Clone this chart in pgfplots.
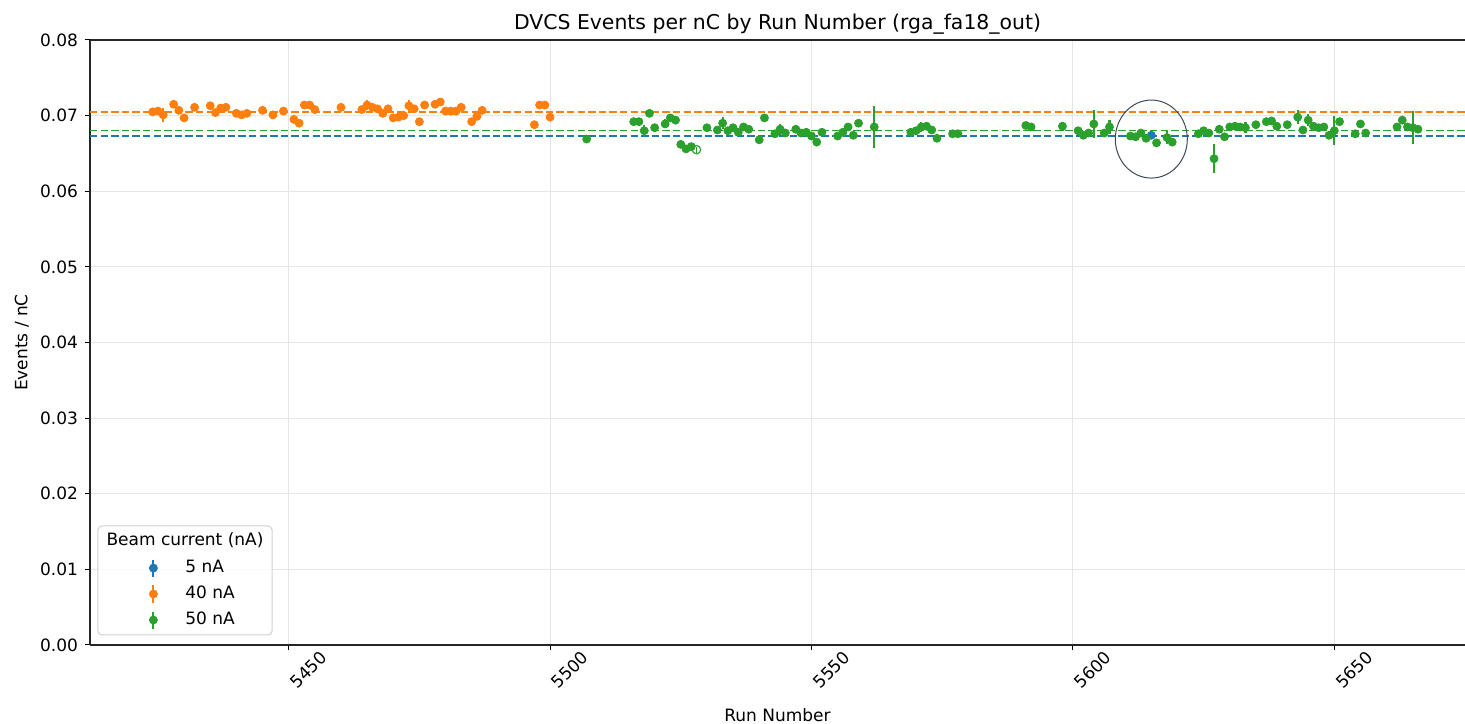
\documentclass[border=0pt]{standalone}
\usepackage{pgfplots}
\pgfplotsset{compat=1.18}
\usepackage{pgfplotstable}
\usepackage{fontspec}
\setmainfont{DejaVu Sans}

\definecolor{tabblue}{HTML}{1F77B4}
\definecolor{taborange}{HTML}{FF7F0E}
\definecolor{tabgreen}{HTML}{2CA02C}
\definecolor{gridgray}{HTML}{E6E6E6}
\definecolor{ringcol}{HTML}{3C4A5C}
\newcommand{\tfont}{\fontsize{8.5}{10}\selectfont}

% 5 nA runs
\pgfplotstableread{
run y ey
5615 0.0674 0.0002
}\bluedata

% 40 nA runs
\pgfplotstableread{
run y ey
5424 0.0705 0.0003
5425 0.0706 0.0003
5426 0.0701 0.0009
5428 0.0715 0.0004
5429 0.0707 0.0003
5430 0.0697 0.0003
5432 0.0711 0.0003
5435 0.0713 0.0003
5436 0.0704 0.0003
5437 0.0710 0.0003
5438 0.0711 0.0003
5440 0.0703 0.0003
5441 0.0701 0.0003
5442 0.0703 0.0003
5445 0.0707 0.0003
5447 0.0701 0.0003
5449 0.0706 0.0003
5451 0.0695 0.0003
5452 0.0690 0.0003
5453 0.0714 0.0003
5454 0.0714 0.0003
5455 0.0708 0.0003
5460 0.0711 0.0003
5464 0.0708 0.0003
5465 0.0714 0.0007
5466 0.0711 0.0003
5467 0.0709 0.0003
5468 0.0703 0.0003
5469 0.0709 0.0004
5470 0.0697 0.0003
5471 0.0698 0.0003
5472 0.0700 0.0003
5473 0.0713 0.0008
5474 0.0709 0.0003
5475 0.0692 0.0003
5476 0.0714 0.0004
5478 0.0715 0.0003
5479 0.0718 0.0003
5480 0.0706 0.0003
5481 0.0706 0.0003
5482 0.0706 0.0003
5483 0.0711 0.0003
5485 0.0692 0.0003
5486 0.0699 0.0003
5487 0.0707 0.0003
5497 0.0688 0.0003
5498 0.0714 0.0005
5499 0.0714 0.0003
5500 0.0698 0.0003
}\orangedata

% 50 nA runs
\pgfplotstableread{
run y ey
5507 0.0669 0.0003
5516 0.0692 0.0003
5517 0.0692 0.0003
5518 0.0680 0.0007
5519 0.0703 0.0003
5520 0.0684 0.0003
5522 0.0689 0.0006
5523 0.0697 0.0003
5524 0.0694 0.0003
5525 0.0662 0.0003
5526 0.0656 0.0003
5527 0.0659 0.0003
5530 0.0684 0.0003
5532 0.0681 0.0003
5533 0.0690 0.0008
5534 0.0680 0.0003
5535 0.0684 0.0003
5536 0.0678 0.0003
5537 0.0685 0.0003
5538 0.0682 0.0003
5540 0.0668 0.0003
5541 0.0697 0.0003
5543 0.0676 0.0003
5544 0.0682 0.0007
5545 0.0677 0.0003
5547 0.0682 0.0003
5548 0.0677 0.0003
5549 0.0678 0.0003
5550 0.0673 0.0003
5551 0.0665 0.0003
5552 0.0678 0.0003
5555 0.0673 0.0003
5556 0.0678 0.0003
5557 0.0685 0.0003
5558 0.0674 0.0003
5559 0.0690 0.0003
5562 0.0685 0.0028
5569 0.0678 0.0003
5570 0.0680 0.0003
5571 0.0685 0.0006
5572 0.0686 0.0003
5573 0.0681 0.0003
5574 0.0670 0.0003
5577 0.0676 0.0003
5578 0.0676 0.0003
5591 0.0687 0.0004
5592 0.0685 0.0003
5598 0.0686 0.0006
5601 0.0680 0.0003
5602 0.0674 0.0003
5603 0.0677 0.0003
5604 0.0689 0.0019
5606 0.0677 0.0003
5607 0.0685 0.0009
5611 0.0673 0.0003
5612 0.0672 0.0003
5613 0.0677 0.0003
5614 0.0670 0.0003
5616 0.0664 0.0003
5618 0.0671 0.0009
5619 0.0665 0.0003
5624 0.0676 0.0003
5625 0.0680 0.0003
5626 0.0677 0.0003
5627 0.0643 0.0019
5628 0.0682 0.0003
5629 0.0672 0.0003
5630 0.0685 0.0003
5631 0.0686 0.0003
5632 0.0685 0.0003
5633 0.0684 0.0007
5635 0.0688 0.0003
5637 0.0692 0.0003
5638 0.0693 0.0003
5639 0.0686 0.0003
5641 0.0688 0.0003
5643 0.0698 0.0009
5644 0.0681 0.0003
5645 0.0694 0.0008
5646 0.0686 0.0003
5647 0.0684 0.0003
5648 0.0685 0.0003
5649 0.0674 0.0003
5650 0.0680 0.0019
5651 0.0692 0.0003
5654 0.0676 0.0003
5655 0.0689 0.0003
5656 0.0677 0.0003
5662 0.0685 0.0003
5663 0.0694 0.0003
5664 0.0685 0.0003
5665 0.0684 0.0022
5666 0.0682 0.0003
}\greendata

\begin{document}
\begin{tikzpicture}
\begin{axis}[
  name=ax,
  scale only axis,
  width=687.5pt, height=302.5pt,
  xmin=5412, xmax=5675, ymin=0, ymax=0.08,
  axis lines*=left,
  axis line style={line width=0.6pt, black!85},
  xtick={5450,5500,5550,5600,5650},
  ytick={0,0.01,0.02,0.03,0.04,0.05,0.06,0.07,0.08},
  scaled y ticks=false,
  /pgf/number format/assume math mode=true,
  xticklabel style={/pgf/number format/1000 sep={}, rotate=45, anchor=center, yshift=-14pt},
  yticklabel style={/pgf/number format/fixed, /pgf/number format/precision=2, /pgf/number format/fixed zerofill},
  ticklabel style={font=\tfont},
  tick align=outside,
  major tick length=2.5pt,
  tick style={line width=0.5pt, black},
  grid=major,
  major grid style={gridgray, line width=0.5pt},
  title={DVCS Events per nC by Run Number (rga\_fa18\_out)},
  title style={at={(axis description cs:0.5,1.0067)}, anchor=center, font=\fontsize{10.2}{12}\selectfont},
  xlabel={Run Number},
  xlabel style={at={(axis description cs:0.5,-0.1157)}, anchor=center, font=\tfont},
  ylabel={Events / nC},
  ylabel style={at={(axis description cs:-0.0495,0.5)}, anchor=center, font=\tfont},
  legend style={at={(axis description cs:0.04,0.1471)}, anchor=north west, draw=none, fill=none,
    inner sep=0pt, row sep=1.2pt, font=\tfont},
  legend cell align=left,
  error bars/error mark=none,
]
% reference lines
\addplot[taborange, line width=0.75pt, dash pattern=on 3.7pt off 1.6pt, forget plot] coordinates {(5412,0.0705) (5675,0.0705)};
\addplot[tabgreen, line width=0.75pt, dash pattern=on 3.7pt off 1.6pt, forget plot] coordinates {(5412,0.0680) (5675,0.0680)};
\addplot[tabblue, line width=0.75pt, dash pattern=on 3.7pt off 1.6pt, forget plot] coordinates {(5412,0.0673) (5675,0.0673)};

% legend frame and title
\draw[draw=black!18, fill=white, fill opacity=0.8, rounded corners=2pt, line width=0.5pt]
  (axis description cs:0.00582,0.01653) rectangle (axis description cs:0.1324,0.1967);
\node[font=\tfont] at (axis description cs:0.0691,0.1736) {Beam current (nA)};

\addplot[only marks, mark=*, mark size=2pt, tabblue,
  legend image code/.code={\draw[line width=1.1pt, tabblue] (0pt,-4.25pt) -- (0pt,4.25pt);
    \fill[tabblue] (0pt,0pt) circle (2pt); \path[draw=none] (-4pt,0pt) -- (14pt,0pt);},
  error bars/.cd, y dir=both, y explicit, error bar style={line width=1.1pt, tabblue}]
  table[x=run, y=y, y error=ey] {\bluedata};
\addlegendentry{5 nA}
\addplot[only marks, mark=*, mark size=2pt, taborange,
  legend image code/.code={\draw[line width=1.1pt, taborange] (0pt,-4.25pt) -- (0pt,4.25pt);
    \fill[taborange] (0pt,0pt) circle (2pt); \path[draw=none] (-4pt,0pt) -- (14pt,0pt);},
  error bars/.cd, y dir=both, y explicit, error bar style={line width=1.1pt, taborange}]
  table[x=run, y=y, y error=ey] {\orangedata};
\addlegendentry{40 nA}
\addplot[only marks, mark=*, mark size=2pt, tabgreen,
  legend image code/.code={\draw[line width=1.1pt, tabgreen] (0pt,-4.25pt) -- (0pt,4.25pt);
    \fill[tabgreen] (0pt,0pt) circle (2pt); \path[draw=none] (-4pt,0pt) -- (14pt,0pt);},
  error bars/.cd, y dir=both, y explicit, error bar style={line width=1.1pt, tabgreen}]
  table[x=run, y=y, y error=ey] {\greendata};
\addlegendentry{50 nA}
% hollow point
\addplot[only marks, mark=o, mark size=2.1pt, tabgreen, forget plot,
  mark options={fill=white, line width=0.6pt},
  error bars/.cd, y dir=both, y explicit, error bar style={line width=0.6pt, tabgreen}]
  coordinates {(5528,0.0655) +- (0,0.0004)};

% highlight ring
\draw[ringcol, line width=0.5pt] (axis cs:5615,0.0669) ellipse [x radius=18pt, y radius=19.5pt];
\end{axis}
\draw[line width=0.6pt, black!85] (ax.north west) -- (ax.north east);
\pgfresetboundingbox
\path[use as bounding box] ([shift={(-45pt,-39.5pt)}]ax.south west) rectangle ([shift={(0pt,20pt)}]ax.north east);
\end{tikzpicture}
\end{document}
